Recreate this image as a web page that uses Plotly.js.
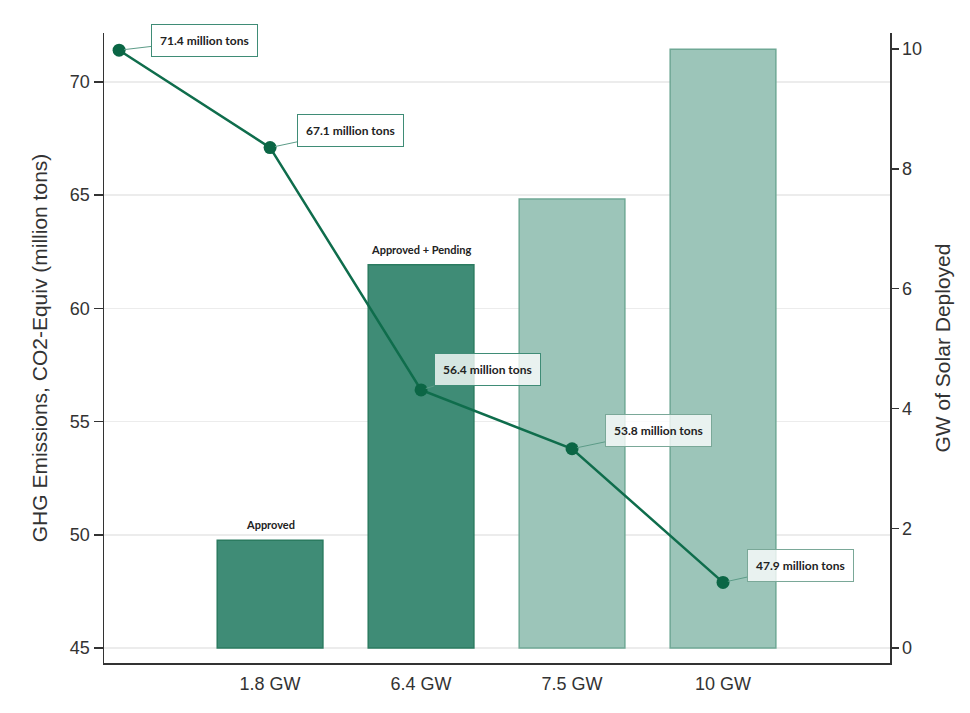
<!DOCTYPE html>
<html>
<head>
<meta charset="utf-8">
<script src="https://cdn.plot.ly/plotly-3.0.1.min.js"></script>
<style>html,body{margin:0;padding:0;background:#fff;}#chart{width:970px;height:713px;}</style>
</head>
<body>
<div id="chart"></div>
<script>
// ---- data ----
var categories = ['1.8 GW', '6.4 GW', '7.5 GW', '10 GW'];
var gwDeployed = [1.8, 6.4, 7.5, 10];
var barLabels = ['Approved', 'Approved + Pending', '', ''];
var barStatus = ['approved', 'approved', 'scenario', 'scenario'];
var emissions = [71.4, 67.1, 56.4, 53.8, 47.9];
var emissionLabels = ['71.4 million tons', '67.1 million tons', '56.4 million tons', '53.8 million tons', '47.9 million tons'];
var leftTicks = [45, 50, 55, 60, 65, 70];
var rightTicks = [0, 2, 4, 6, 8, 10];

// ---- positions derived from data ----
var barX = categories.map(function (c, i) { return i + 1; });
var lineX = emissions.map(function (v, i) { return i; });

var fillColors = barStatus.map(function (s) { return s === 'approved' ? '#3f8c76' : '#9cc5b9'; });
var lineColors = barStatus.map(function (s) { return s === 'approved' ? '#2b7b60' : '#6fa895'; });

var bars = {
  type: 'bar',
  x: barX,
  y: gwDeployed,
  width: 0.7,
  yaxis: 'y',
  marker: { color: fillColors, line: { color: lineColors, width: 1.5 } },
  hoverinfo: 'skip',
  showlegend: false
};

var line = {
  type: 'scatter',
  mode: 'lines+markers',
  x: lineX,
  y: emissions,
  yaxis: 'y2',
  line: { color: '#0f6d4c', width: 2.5 },
  marker: { color: '#0b6645', size: 13 },
  cliponaxis: false,
  showlegend: false
};

var annFont = { family: 'Lato, "Open Sans", sans-serif', size: 12, color: '#222' };

var barAnnotations = [];
barLabels.forEach(function (t, i) {
  if (!t) return;
  barAnnotations.push({
    x: barX[i], y: gwDeployed[i], xref: 'x', yref: 'y',
    text: '<b>' + t + '</b>', showarrow: false,
    yanchor: 'bottom', yshift: 7,
    font: { family: 'Lato, "Open Sans", sans-serif', size: 11, color: '#222' }
  });
});

var offsets = [[85, -10], [80, -17], [66, -20], [86, -18], [77, -17]];
var borders = ['#3f8c76', '#3f8c76', '#3f8c76', '#7aa898', '#7aa898'];
var lineAnnotations = emissions.map(function (v, i) {
  return {
    x: lineX[i], y: v, xref: 'x', yref: 'y2',
    text: '<b>' + emissionLabels[i] + '</b>',
    showarrow: true, arrowhead: 0, arrowwidth: 1, arrowcolor: '#5c9c88',
    ax: offsets[i][0], ay: offsets[i][1], standoff: 5,
    font: annFont,
    bgcolor: 'rgba(255,255,255,0.78)', bordercolor: borders[i], borderwidth: 1, borderpad: 8
  };
});

var tickFont = { family: '"Liberation Sans", Arial, sans-serif', size: 18, color: '#333' };
var titleFont = { family: '"Liberation Sans", Arial, sans-serif', size: 21, color: '#333' };

var layout = {
  width: 970, height: 713,
  margin: { l: 104, r: 80, t: 33, b: 50 },
  paper_bgcolor: '#fff', plot_bgcolor: '#fff',
  xaxis: {
    range: [-0.1, 5.106],
    tickvals: barX, ticktext: categories,
    showgrid: false, zeroline: false,
    showline: true, linecolor: '#333', linewidth: 1.5,
    ticks: '', tickfont: tickFont, ticklabelstandoff: 4
  },
  yaxis: {
    side: 'right',
    range: [-0.25, 10.27],
    tickvals: rightTicks,
    showgrid: false, zeroline: false,
    showline: true, linecolor: '#333', linewidth: 1.5,
    ticks: 'outside', ticklen: 7, tickcolor: '#333', tickwidth: 1.5,
    tickfont: tickFont,
    title: { text: 'GW of Solar Deployed', font: titleFont, standoff: 14 }
  },
  yaxis2: {
    side: 'left', overlaying: 'y',
    range: [44.34, 72.16],
    tickvals: leftTicks,
    showgrid: true, gridcolor: '#ececec', gridwidth: 1.5,
    zeroline: false,
    showline: true, linecolor: '#333', linewidth: 1.5,
    ticks: 'outside', ticklen: 9, tickcolor: '#333', tickwidth: 1.5,
    tickfont: tickFont,
    title: { text: 'GHG Emissions, CO2-Equiv (million tons)', font: titleFont, standoff: 16 }
  },
  annotations: barAnnotations.concat(lineAnnotations),
  showlegend: false
};

Plotly.newPlot('chart', [bars, line], layout, { displayModeBar: false, staticPlot: true });
</script>
</body>
</html>
